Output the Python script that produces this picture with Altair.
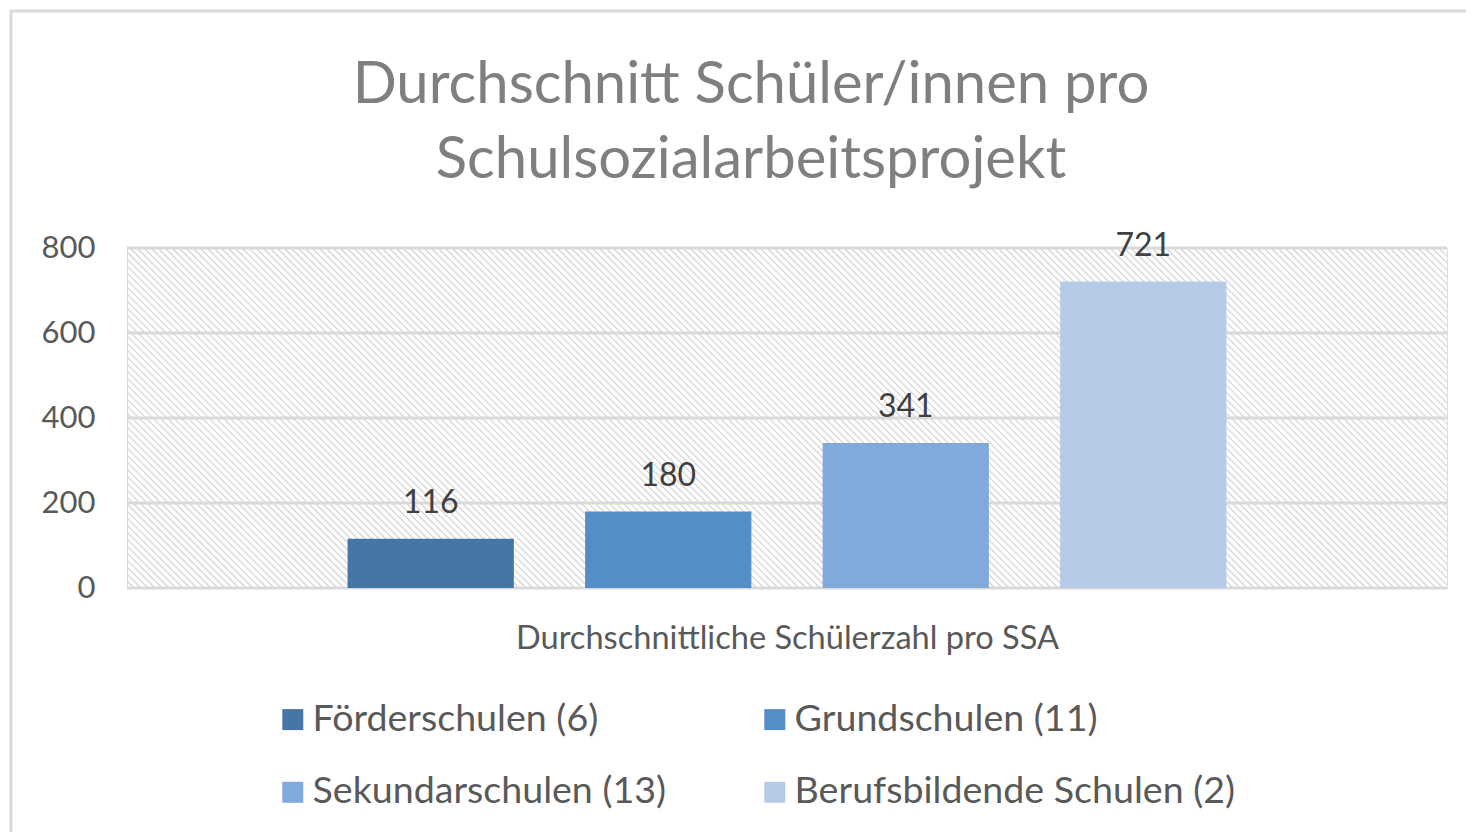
import altair as alt
import pandas as pd

# ---- data ----
categories = ["Förderschulen (6)", "Grundschulen (11)", "Sekundarschulen (13)", "Berufsbildende Schulen (2)"]
values = [116, 180, 341, 721]
colors = ["#4676a6", "#538ec7", "#80aadc", "#b5cbe7"]
group_label = "Durchschnittliche Schülerzahl pro SSA"
y_ticks = [0, 200, 400, 600, 800]
title_lines = ["Durchschnitt Schüler/innen pro", "Schulsozialarbeitsprojekt"]

W, H = 1320, 340
FONT = "Lato"
TXT = "#595959"
LINE = "#d9d9d9"

df = pd.DataFrame({"gruppe": [group_label] * len(categories), "schule": categories, "wert": values})
grid_df = pd.DataFrame({"tick": y_ticks})
ydom = [y_ticks[0], y_ticks[-1]]

x_enc = alt.X(
    "gruppe:N",
    title=group_label,
    scale=alt.Scale(paddingInner=0, paddingOuter=0.1947),
    axis=alt.Axis(labels=False, ticks=False, domain=False, grid=False,
                  titleFontSize=32.6, titleColor=TXT, titleFont=FONT,
                  titleFontWeight="normal", titlePadding=34),
)
xoff_enc = alt.XOffset("schule:N", sort=categories,
                       scale=alt.Scale(paddingInner=0.3, paddingOuter=0.15))

grid = alt.Chart(grid_df).mark_rule(color=LINE, strokeWidth=3).encode(
    y=alt.Y("tick:Q", scale=alt.Scale(domain=ydom, nice=False), title=None)
)

bars = alt.Chart(df).mark_bar().encode(
    x=x_enc,
    xOffset=xoff_enc,
    y=alt.Y("wert:Q", scale=alt.Scale(domain=ydom, nice=False), title=None,
            axis=alt.Axis(values=y_ticks, grid=False, ticks=False, domain=False,
                          labelFontSize=31, labelColor=TXT, labelFont=FONT,
                          labelPadding=32)),
    color=alt.Color("schule:N", sort=categories,
                    scale=alt.Scale(domain=categories, range=colors),
                    legend=alt.Legend(title=None, orient="none", legendX=147, legendY=452.5,
                                      direction="horizontal", columns=2,
                                      symbolType="square", symbolSize=441,
                                      symbolStrokeWidth=0, symbolOpacity=1,
                                      labelFontSize=37.6, labelFont=FONT, labelColor=TXT,
                                      labelOffset=1, columnPadding=89, rowPadding=34,
                                      padding=0, gridAlign="each", labelLimit=1000)),
)

labels = alt.Chart(df).mark_text(dy=-26, baseline="alphabetic", fontSize=32,
                                 color="#404040", font=FONT).encode(
    x=x_enc,
    xOffset=xoff_enc,
    y=alt.Y("wert:Q", scale=alt.Scale(domain=ydom, nice=False), title=None),
    text="wert:Q",
)

inner = alt.layer(grid, bars, labels)

hatch = alt.Chart(alt.sequence(-H, W, 7, as_="k")).transform_calculate(
    k2=f"datum.k + {H}", top=f"{H}", bot="0"
).mark_rule(clip=True, color="#d2d2d2", strokeWidth=1.2).encode(
    x=alt.X("k:Q", scale=alt.Scale(domain=[0, W], nice=False, zero=False), axis=None),
    x2="k2:Q",
    y=alt.Y("top:Q", scale=alt.Scale(domain=[0, H], nice=False, zero=False), axis=None),
    y2="bot:Q",
)

frame = alt.Chart(alt.Data(values=[{"a": 1}])).mark_rect(
    filled=False, stroke=LINE, strokeWidth=3
).encode(x=alt.value(-116), x2=alt.value(1600), y=alt.value(-237), y2=alt.value(900))

chart = alt.layer(frame, hatch, inner).resolve_scale(
    x="independent", y="independent"
).properties(
    width=W,
    height=H,
    autosize=alt.AutoSizeParams(type="none"),
    padding={"left": 119, "top": 240, "right": 19, "bottom": 244},
    title=alt.TitleParams(text=title_lines, fontSize=58, font=FONT, color="#7f7f7f",
                          fontWeight="normal", anchor="middle", dx=-36,
                          lineHeight=75, offset=-180),
).configure_view(
    stroke=LINE, strokeWidth=3
).configure(background="white")

chart.save("out.html", embed_options={"renderer": "svg", "actions": False})
